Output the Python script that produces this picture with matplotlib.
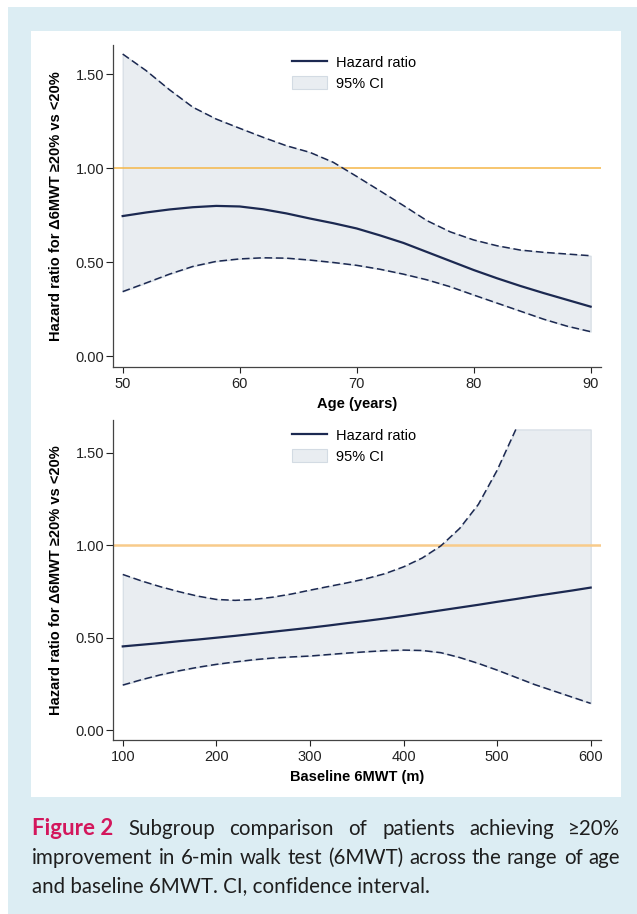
import numpy as np
import matplotlib
matplotlib.use("Agg")
import matplotlib.pyplot as plt
from matplotlib.patches import Rectangle, Patch
from matplotlib.lines import Line2D

# --- data ---
age = [50, 52, 54, 56, 58, 60, 62, 64, 66, 68, 70, 72, 74, 76, 78, 80, 82, 84, 86, 88, 90]
age_hr = [0.746, 0.765, 0.781, 0.793, 0.800, 0.797, 0.782, 0.760, 0.733, 0.708, 0.680,
          0.643, 0.603, 0.555, 0.507, 0.459, 0.415, 0.374, 0.336, 0.300, 0.264]
age_lo = [0.344, 0.390, 0.437, 0.478, 0.505, 0.518, 0.524, 0.522, 0.512, 0.499, 0.484,
          0.463, 0.437, 0.407, 0.370, 0.326, 0.283, 0.240, 0.197, 0.160, 0.131]
age_hi = [1.608, 1.520, 1.418, 1.325, 1.262, 1.213, 1.165, 1.120, 1.085, 1.032, 0.957,
          0.880, 0.802, 0.722, 0.662, 0.619, 0.588, 0.565, 0.553, 0.544, 0.535]

walk = [100, 120, 140, 160, 180, 200, 220, 240, 260, 280, 300, 320, 340, 360, 380,
        400, 420, 440, 460, 480, 500, 520, 540, 560, 580, 600]
walk_hr = [0.452, 0.461, 0.470, 0.480, 0.489, 0.499, 0.509, 0.520, 0.531, 0.542, 0.553,
           0.565, 0.578, 0.590, 0.603, 0.617, 0.632, 0.647, 0.662, 0.677, 0.693,
           0.708, 0.724, 0.739, 0.754, 0.770]
walk_lo = [0.243, 0.272, 0.298, 0.320, 0.339, 0.355, 0.368, 0.380, 0.389, 0.395, 0.400,
           0.408, 0.416, 0.423, 0.429, 0.432, 0.430, 0.418, 0.392, 0.360, 0.324,
           0.285, 0.246, 0.212, 0.178, 0.144]
# upper bound runs off the plotted range after ~515 m (nan = clipped)
walk_hi = [0.841, 0.806, 0.775, 0.748, 0.724, 0.706, 0.701, 0.706, 0.718, 0.735, 0.756,
           0.776, 0.796, 0.818, 0.845, 0.882, 0.930, 0.996, 1.090, 1.220, 1.404,
           1.625, np.nan, np.nan, np.nan, np.nan]
ci_cap = 1.625

yticks = [0.0, 0.5, 1.0, 1.5]
age_ticks = [50, 60, 70, 80, 90]
walk_ticks = [100, 200, 300, 400, 500, 600]

ylab = "Hazard ratio for \u03946MWT \u226520% vs <20%"

NAVY = "#1c2951"
FILL = "#e9edf1"
BG = "#dcedf3"
FS = 10.5

plt.rcParams["font.family"] = ["Liberation Sans", "DejaVu Sans"]

W, H = 637, 914
fig = plt.figure(figsize=(W / 100, H / 100), dpi=100)
fig.patch.set_facecolor("white")


def fx(px):
    return px / W


def fy(py):
    return 1 - py / H


fig.add_artist(Rectangle((fx(8), 0), 1 - fx(8), fy(7), transform=fig.transFigure,
                         facecolor=BG, edgecolor="none", zorder=-20))
fig.add_artist(Rectangle((fx(31), fy(797)), fx(621) - fx(31), fy(31) - fy(797),
                         transform=fig.transFigure, facecolor="white",
                         edgecolor="none", zorder=-10))


def panel(top, bottom, right, x, hr, lo, hi, xlim, ylim, xticks, xlabel, hcolor, hlw, leg_top):
    ax = fig.add_axes([fx(113.3), fy(bottom), fx(right) - fx(113.3), fy(top) - fy(bottom)])
    ax.set_facecolor("none")
    x = np.asarray(x, float)
    lo = np.asarray(lo, float)
    hi = np.asarray(hi, float)
    hi_fill = np.where(np.isnan(hi), ci_cap, hi)
    ax.fill_between(x, lo, hi_fill, facecolor=FILL, edgecolor="#d3dbe3", lw=0.8, zorder=1)
    ax.axhline(1.0, color=hcolor, lw=hlw, zorder=2)
    ax.plot(x, hr, color=NAVY, lw=1.6, zorder=4)
    for b in (lo, hi):
        ln, = ax.plot(x, b, color=NAVY, lw=1.1, zorder=3)
        ln.set_dashes((5.0, 2.4))
    ax.set_xlim(*xlim)
    ax.set_ylim(*ylim)
    ax.set_yticks(yticks)
    ax.set_yticklabels(["%.2f" % v for v in yticks])
    ax.set_xticks(xticks)
    for s in ("top", "right"):
        ax.spines[s].set_visible(False)
    for s in ("left", "bottom"):
        ax.spines[s].set_color("#444444")
        ax.spines[s].set_linewidth(0.9)
    ax.tick_params(axis="y", length=5, width=0.8, pad=1.5, labelsize=FS, colors="#222222")
    ax.tick_params(axis="x", length=4.5, width=0.8, pad=3, labelsize=FS, colors="#222222")
    ax.set_ylabel(ylab, fontsize=FS, fontweight="bold", va="center")
    ax.yaxis.set_label_coords((56 - 113.3) / (right - 113.3), 0.5)
    ax.set_xlabel(xlabel, fontsize=FS, fontweight="bold", va="center")
    ax.xaxis.set_label_coords(0.5, -37.5 / (bottom - top))
    handles = [Line2D([], [], color=NAVY, lw=1.6),
               Patch(facecolor=FILL, edgecolor="#d3dbe3", lw=0.8)]
    ax.legend(handles, ["Hazard ratio", "95% CI"], loc="upper left",
              bbox_to_anchor=(fx(292), fy(leg_top)), bbox_transform=fig.transFigure,
              frameon=False, fontsize=FS, borderpad=0, handlelength=2.4,
              handleheight=1.0, handletextpad=0.65, labelspacing=0.45, borderaxespad=0)
    return ax


panel(45, 367, 600.7, age, age_hr, age_lo, age_hi, (49.2, 90.86), (-0.057, 1.656),
      age_ticks, "Age (years)", "#f5b748", 1.1, 55)
panel(420, 740, 600.7, walk, walk_hr, walk_lo, walk_hi, (89.9, 610.7), (-0.054, 1.676),
      walk_ticks, "Baseline 6MWT (m)", "#f8cb8a", 1.8, 428)

# --- caption (justified like the journal layout) ---
cap_font = ["Lato", "DejaVu Sans"]
cap_size = 14.8
left_px, right_px = 32.5, 620
renderer = fig.canvas.get_renderer()


def caption_line(tokens, base_px, justify=True):
    texts = []
    for word, bold in tokens:
        t = fig.text(0, fy(base_px), word, fontsize=cap_size + (1.2 if bold else 0),
                     family=cap_font, fontweight="bold" if bold else "normal",
                     color="#d3175c" if bold else "#1e1e1e", va="baseline", ha="left")
        texts.append(t)
    widths = [t.get_window_extent(renderer).width for t in texts]
    if justify and len(texts) > 1:
        gap = (right_px - left_px - sum(widths)) / (len(texts) - 1)
    else:
        gap = 0
    x = left_px
    for t, w in zip(texts, widths):
        t.set_x(fx(round(x)))
        x += w + gap


line1 = [("Figure 2", True)] + [(w, False) for w in
                                 "Subgroup comparison of patients achieving \u226520%".split()]
line2 = [(w, False) for w in "improvement in 6-min walk test (6MWT) across the range of age".split()]
line3 = [("and baseline 6MWT. CI, confidence interval.", False)]
caption_line(line1, 835)
caption_line(line2, 864)
caption_line(line3, 892, justify=False)

fig.savefig("out.png", dpi=100)
